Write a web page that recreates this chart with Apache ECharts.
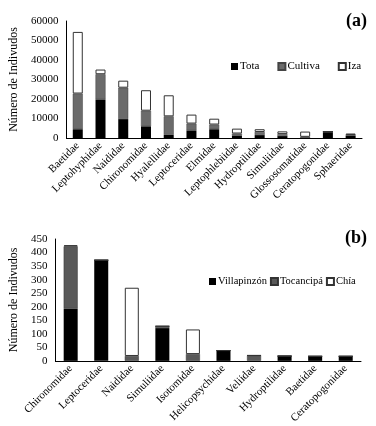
<!DOCTYPE html>
<html>
<head>
<meta charset="utf-8">
<script src="https://cdn.jsdelivr.net/npm/echarts@6/dist/echarts.min.js"></script>
<style>
  html, body { margin: 0; padding: 0; background: #fff; }
  #chart { width: 376px; height: 426px; }
</style>
</head>
<body>
<div id="chart"></div>
<script>
// panel (a)
const familiesA = ["Baetidae", "Leptohyphidae", "Naididae", "Chironomidae", "Hyalellidae", "Leptoceridae",
  "Elmidae", "Leptophlebiidae", "Hydroptilidae", "Simuliidae", "Glossosomatidae", "Ceratopogonidae", "Sphaeridae"];
const tota = [4500, 19800, 9700, 6000, 1700, 3900, 4500, 1300, 1500, 1000, 300, 3000, 1200];
const cultiva = [18300, 12900, 16100, 8000, 9400, 3500, 2400, 1000, 1600, 1000, 300, 300, 300];
const iza = [31600, 2400, 3600, 10500, 10800, 4600, 3000, 2500, 1400, 1400, 2700, 0, 800];

// panel (b)
const familiesB = ["Chironomidae", "Leptoceridae", "Naididae", "Simuliidae", "Isotomidae", "Helicopsychidae",
  "Veliidae", "Hydroptilidae", "Baetidae", "Ceratopogonidae"];
const villapinzon = [193, 372, 0, 121, 0, 38, 0, 18, 17, 17];
const tocancipa = [230, 0, 18, 7, 25, 0, 20, 0, 0, 0];
const chia = [4, 0, 252, 0, 91, 0, 0, 0, 0, 0];

const serif = "'Liberation Serif', 'DejaVu Serif', serif";
const chart = echarts.init(document.getElementById("chart"));

function axisText(extra) {
  return Object.assign({ color: "#000", fontFamily: serif, fontSize: 11 }, extra);
}
function legendText(size) {
  return { color: "#000", fontFamily: serif, fontSize: size, padding: [0, 0, 0, -3] };
}

const option = {
  animation: false,
  textStyle: { fontFamily: serif },
  grid: [
    { left: 57, right: 14, top: 21, height: 117 },
    { left: 46, right: 15, top: 239, height: 128 },
  ],
  legend: [
    {
      data: ["Tota", "Cultiva", "Iza"],
      left: 226, top: 56, icon: "rect",
      itemWidth: 7, itemHeight: 7, itemGap: 18,
      textStyle: legendText(11),
    },
    {
      data: ["Villapinzón", "Tocancipá", "Chía"],
      left: 204, top: 271, icon: "rect",
      itemWidth: 7, itemHeight: 7, itemGap: 3,
      textStyle: legendText(10.5),
    },
  ],
  xAxis: [
    {
      gridIndex: 0, type: "category", data: familiesA,
      axisLine: { lineStyle: { color: "#000" } },
      axisTick: { show: false },
      axisLabel: axisText({ interval: 0, rotate: 45, margin: 6 }),
    },
    {
      gridIndex: 1, type: "category", data: familiesB,
      axisLine: { lineStyle: { color: "#000" } },
      axisTick: { show: false },
      axisLabel: axisText({ interval: 0, rotate: 45, margin: 6 }),
    },
  ],
  yAxis: [
    {
      gridIndex: 0, type: "value", min: 0, max: 60000, interval: 10000,
      name: "Número de Indivudos", nameLocation: "middle", nameGap: 39,
      nameTextStyle: { color: "#000", fontFamily: serif, fontSize: 12 },
      axisLine: { show: true, lineStyle: { color: "#000" } },
      axisTick: { show: false },
      splitLine: { show: false },
      axisLabel: axisText({ margin: 8, formatter: (v) => String(v) }),
    },
    {
      gridIndex: 1, type: "value", min: 0, max: 450, interval: 50,
      name: "Número de Indivudos", nameLocation: "middle", nameGap: 31,
      nameTextStyle: { color: "#000", fontFamily: serif, fontSize: 12 },
      axisLine: { show: true, lineStyle: { color: "#000" } },
      axisTick: { show: false },
      splitLine: { show: false },
      axisLabel: axisText({ margin: 8, formatter: (v) => String(v) }),
    },
  ],
  series: [
    { name: "Tota", type: "bar", stack: "a", xAxisIndex: 0, yAxisIndex: 0, data: tota, barWidth: 10,
      itemStyle: { color: "#000" } },
    { name: "Cultiva", type: "bar", stack: "a", xAxisIndex: 0, yAxisIndex: 0, data: cultiva, barWidth: 10,
      itemStyle: { color: "#6b6b6b", borderColor: "#444", borderWidth: 0.5 } },
    { name: "Iza", type: "bar", stack: "a", xAxisIndex: 0, yAxisIndex: 0, data: iza, barWidth: 10,
      itemStyle: { color: "#fff", borderColor: "#333", borderWidth: 1 } },
    { name: "Villapinzón", type: "bar", stack: "b", xAxisIndex: 1, yAxisIndex: 1, data: villapinzon, barWidth: 14,
      itemStyle: { color: "#000" } },
    { name: "Tocancipá", type: "bar", stack: "b", xAxisIndex: 1, yAxisIndex: 1, data: tocancipa, barWidth: 14,
      itemStyle: { color: "#595959", borderColor: "#333", borderWidth: 0.5 } },
    { name: "Chía", type: "bar", stack: "b", xAxisIndex: 1, yAxisIndex: 1, data: chia, barWidth: 14,
      itemStyle: { color: "#fff", borderColor: "#333", borderWidth: 1 } },
  ],
  graphic: [
    { type: "text", right: 9, top: 12,
      style: { text: "(a)", font: "bold 18px " + serif, fill: "#000" } },
    { type: "text", right: 9, top: 229,
      style: { text: "(b)", font: "bold 18px " + serif, fill: "#000" } },
  ],
};

chart.setOption(option);
</script>
</body>
</html>
